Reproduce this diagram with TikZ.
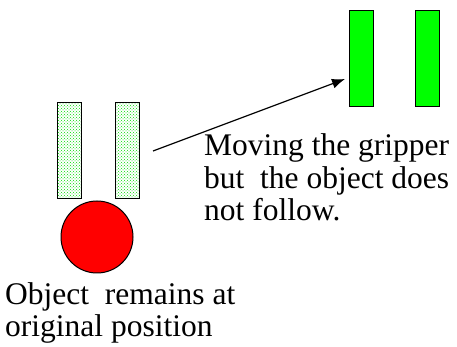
\documentclass[tikz,border=0pt]{standalone}
\usepackage{fontspec}
\setmainfont{Liberation Serif}
\usepackage{xcolor}
\definecolor{gripGreen}{HTML}{00FF00}
\definecolor{gripDots}{HTML}{00DD00}
\definecolor{objRed}{HTML}{FF0000}
\usetikzlibrary{patterns,arrows.meta}

\begin{document}
\begin{tikzpicture}[x=1pt, y=1pt,
    finger/.style={rectangle, draw, line width=1pt, inner sep=0pt, minimum width=24pt, minimum height=96pt},
    ghost/.style={finger, pattern=crosshatch dots, pattern color=gripDots},
    solid finger/.style={finger, fill=gripGreen},
    caption/.style={align=left, anchor=base west, inner sep=0pt, font=\fontsize{31.5}{32.5}\selectfont}]
  \useasboundingbox (0,0) rectangle (457,347);
  \node[ghost] (L1) at (69.5,196.5) {};
  \node[ghost] (L2) at (127,196.5) {};
  \node[circle, draw, line width=1pt, fill=objRed, minimum size=72pt, inner sep=0pt] (obj) at (97,110) {};
  \node[solid finger] (R1) at (361,288.5) {};
  \node[solid finger] (R2) at (427,288.5) {};
  \coordinate (from) at (153,196);
  \coordinate (to) at (345,268);
  \draw[line width=1.2pt, -{Latex[length=13pt,width=10pt]}] (from) -- (to);
  % base anchor sits on the last line
  \node[caption] (move) at (204,126) {Moving the gripper\\but\ \ the object does\\not follow.};
  \node[caption] (stay) at (5,10) {Object\ \ remains at\\original position};
\end{tikzpicture}
\end{document}
